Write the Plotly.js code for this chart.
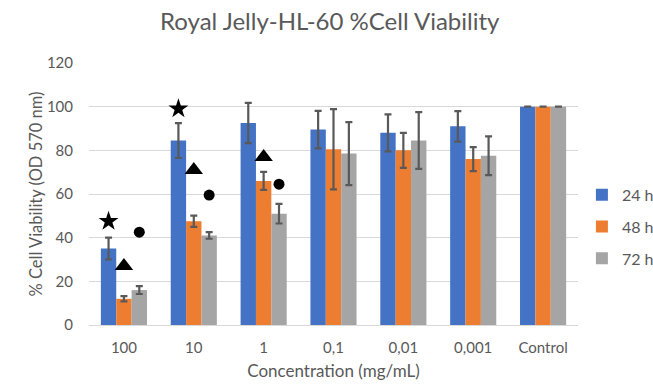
<!DOCTYPE html>
<html>
<head>
<meta charset="utf-8">
<script src="https://cdn.plot.ly/plotly-3.0.1.min.js"></script>
<style>html,body{margin:0;padding:0;background:#fff;}#chart{width:653px;height:385px;}</style>
</head>
<body>
<div id="chart"></div>
<script>
// ---- data ----
const categories = ['100', '10', '1', '0,1', '0,01', '0,001', 'Control'];
const seriesNames = ['24 h', '48 h', '72 h'];
const v24 = [35, 84.5, 92.5, 89.5, 88, 91, 100];
const e24 = [5, 8, 9.2, 8.6, 8.5, 7, 0];
const v48 = [12, 47.5, 66, 80.5, 80, 76, 100];
const e48 = [1.2, 2.6, 4.1, 18.4, 8, 5.5, 0];
const v72 = [16, 41, 51, 78.5, 84.5, 77.5, 100];
const e72 = [1.8, 1.5, 4.5, 14.4, 13, 8.9, 0];
// significance markers (y position of symbol above bar)
const star24 = [47.5, 99, null, null, null, null, null];
const tri48 = [27, 71, 77, null, null, null, null];
const dot72 = [42.5, 59.5, 64.5, null, null, null, null];

const colors = ['#4472C4', '#ED7D31', '#A5A5A5'];
const values = [v24, v48, v72];
const errors = [e24, e48, e72];
const marks = [star24, tri48, dot72];
const symbols = ['star', 'triangle-up', 'circle'];
const symSizes = [15, 16, 11];

const traces = [];
values.forEach((v, i) => {
  traces.push({
    type: 'bar', x: categories, y: v, name: seriesNames[i],
    marker: {color: colors[i]},
    offsetgroup: String(i), legendgroup: String(i),
    error_y: {type: 'data', array: errors[i], visible: true, color: '#595959', thickness: 2.2, width: 3.5},
    hoverinfo: 'x+y'
  });
});
marks.forEach((m, i) => {
  traces.push({
    type: 'scatter', mode: 'markers', x: categories, y: m,
    offsetgroup: String(i), showlegend: false,
    marker: {symbol: symbols[i], size: symSizes[i], color: '#000000'},
    hoverinfo: 'skip'
  });
});

const fontFam = 'Lato, "Open Sans", sans-serif';
const layout = {
  width: 653, height: 385,
  paper_bgcolor: '#ffffff', plot_bgcolor: '#ffffff',
  margin: {l: 89, r: 75, t: 63, b: 60, autoexpand: false},
  font: {family: fontFam, color: '#595959', size: 15},
  title: {text: 'Royal Jelly-HL-60 %Cell Viability', font: {family: fontFam, size: 24, color: '#595959'},
          x: 0.505, xanchor: 'center', y: 0.943, yanchor: 'middle'},
  barmode: 'group', bargap: 0.34, bargroupgap: 0,
  scattermode: 'group', scattergap: 0.34,
  xaxis: {
    type: 'category', showgrid: false, showline: true, linecolor: '#d9d9d9', linewidth: 1,
    ticks: '', tickfont: {size: 15, color: '#595959'}, ticklabelstandoff: 9,
    title: {text: 'Concentration (mg/mL)', font: {size: 17, color: '#595959'}, standoff: 10},
    zeroline: false
  },
  yaxis: {
    range: [0, 120], dtick: 20, showgrid: true, gridcolor: '#d9d9d9', gridwidth: 1,
    zeroline: false, showline: false, ticks: '',
    tickfont: {size: 15, color: '#595959'}, ticklabelstandoff: 15,
    title: {text: '% Cell Viability (OD 570 nm)', font: {size: 16.5, color: '#595959'}, standoff: 0}
  },
  legend: {
    x: 1.008, xanchor: 'left', y: 0.375, yanchor: 'middle',
    font: {size: 16, color: '#595959'}, traceorder: 'grouped', tracegroupgap: 8,
    itemwidth: 30, bgcolor: 'rgba(0,0,0,0)'
  },
  showlegend: true
};

Plotly.newPlot('chart', traces, layout, {displayModeBar: false, staticPlot: true});
</script>
</body>
</html>
